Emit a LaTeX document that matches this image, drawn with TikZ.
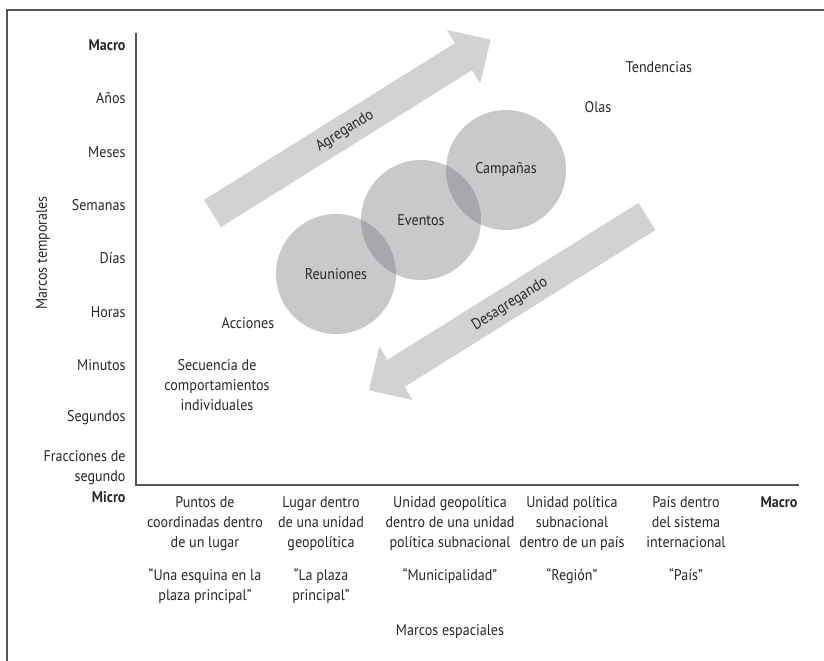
\documentclass[tikz,border=0pt]{standalone}
\usepackage{fontspec}
\setmainfont{PT Sans}[FakeStretch=0.91]
\usepackage{tikz}
\definecolor{framegray}{RGB}{85, 85, 85}
\definecolor{textgray}{RGB}{40, 40, 40}
\definecolor{arrowgray}{RGB}{209, 210, 212}
\definecolor{bubblegray}{RGB}{117, 119, 124}
\tikzset{every picture/.style={line width=0.75pt}}
\tikzset{
  lbl/.style={text=textgray, inner sep=0.75pt, font=\fontsize{11.6}{15}\selectfont},
  ylbl/.style={lbl, anchor=east, align=right},
  xlbl/.style={lbl, anchor=north, align=center},
  bubble/.style={circle, minimum size=90pt, fill=bubblegray, fill opacity=0.4, text opacity=1, lbl},
  bigarrow/.style={fill=arrowgray, draw=none},
  axisline/.style={draw=framegray, line width=1.1pt},
}

\begin{document}
\begin{tikzpicture}[x=0.75pt,y=0.75pt,yscale=-1,xscale=1]
\useasboundingbox (0,0) rectangle (824,660);

%Shape: Frame
\draw [axisline] (7,662) -- (7,10) -- (826,10) ;

% Axes
\coordinate (ytop) at (136,33);
\coordinate (origin) at (136,485);
\coordinate (xend) at (799,485);
\draw [axisline] (ytop) -- (origin) -- (xend) ;

%Shape: Arrow up [id:agregar]
\begin{scope}[shift={(212.5,213.5)},rotate=-32]
\fill [bigarrow] (0,-16) -- (296,-16) -- (296,-31.5) -- (328,0) -- (296,31.5) -- (296,16) -- (0,16) -- cycle ;
\end{scope}
%Shape: Arrow down [id:desagregar]
\begin{scope}[shift={(647,216.5)},rotate=148]
\fill [bigarrow] (0,-16) -- (296,-16) -- (296,-31.5) -- (328,0) -- (296,31.5) -- (296,16) -- (0,16) -- cycle ;
\end{scope}

%Shape: Circles
\node [bubble] (reuniones) at (336,274) {Reuniones};
\node [bubble] (eventos) at (421,220) {Eventos};
\node [bubble] (campanas) at (506,170) {Campañas};

% Text Node
\node [lbl, rotate=32] (agregando) at (345,131) {Agregando};
% Text Node
\node [lbl, rotate=32] (desagregando) at (510,304) {Desagregando};

% Text Node
\node [lbl] (tendencias) at (659,67) {Tendencias};
% Text Node
\node [lbl] (olas) at (598,107) {Olas};
% Text Node
\node [lbl] (acciones) at (248,323) {Acciones};
% Text Node
\node [lbl, align=center] (secuencia) at (217,385) {Secuencia de\\comportamientos\\individuales};

% Vertical axis labels
\node [ylbl] (ymacro) at (127,45) {\bfseries Macro};
\node [ylbl] (anos) at (127,98) {Años};
\node [ylbl] (meses) at (127,152) {Meses};
\node [ylbl] (semanas) at (127,205) {Semanas};
\node [ylbl] (dias) at (127,258) {Días};
\node [ylbl] (horas) at (127,312) {Horas};
\node [ylbl] (minutos) at (127,365) {Minutos};
\node [ylbl] (segundos) at (127,418) {Segundos};
\node [ylbl] (fracciones) at (127,468) {Fracciones de\\segundo};
\node [ylbl] (ymicro) at (127,497) {\bfseries Micro};
% Text Node
\node [lbl, rotate=90] (temporales) at (43,253) {Marcos temporales};

% Horizontal axis labels
\node [xlbl] (puntos) at (205,495) {Puntos de\\coordinadas dentro\\de un lugar};
\node [xlbl] (lugar) at (321,495) {Lugar dentro\\de una unidad\\geopolítica};
\node [xlbl] (geopolitica) at (450,495) {Unidad geopolítica\\dentro de una unidad\\política subnacional};
\node [xlbl] (subnacional) at (572,495) {Unidad política\\subnacional\\dentro de un país};
\node [xlbl] (pais) at (686,495) {País dentro\\del sistema\\internacional};
\node [xlbl] (xmacro) at (779,495) {\bfseries Macro};

\node [xlbl] (esquina) at (205,567) {“Una esquina en la\\plaza principal”};
\node [xlbl] (plaza) at (321,567) {“La plaza\\principal”};
\node [xlbl] (municipalidad) at (450,567) {“Municipalidad”};
\node [xlbl] (region) at (572,567) {“Región”};
\node [xlbl] (paisq) at (686,567) {“País”};
% Text Node
\node [lbl] (espaciales) at (450,632) {Marcos espaciales};

\end{tikzpicture}
\end{document}
